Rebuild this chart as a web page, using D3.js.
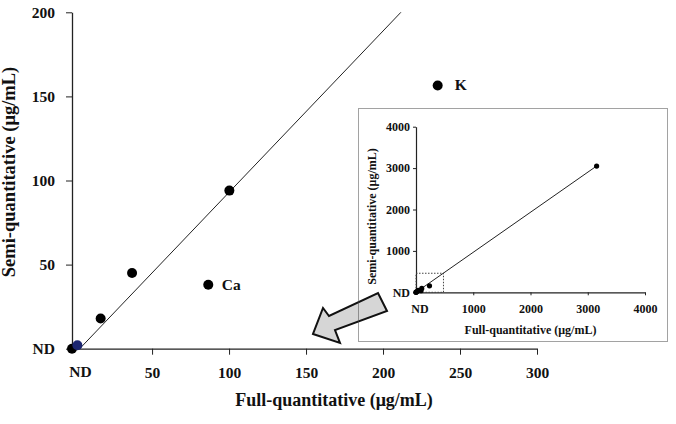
<!DOCTYPE html>
<html>
<head>
<meta charset="utf-8">
<script src="https://cdn.jsdelivr.net/npm/d3@7"></script>
<style>
  body { margin: 0; background: #fff; }
  svg { display: block; }
  .axis path, .axis line { stroke: #222; }
</style>
</head>
<body>
<svg width="676" height="424"></svg>
<script>
// main chart values ('ND' = not detected, drawn at the axis origin)
const fullQuant = ['ND', 1.5, 16.6, 37, 100.2, 86.5, 235.5]
const semiQuant = ['ND', 2, 18, 45, 94, 38, 156.5]
const pointColors = ['#000', '#1c2670', '#000', '#000', '#000', '#000', '#000']
const pointLabels = ['', '', '', '', '', 'Ca', 'K']
const fitX = [3, 211.6]
const fitY = [0, 200]
const xTicks = [50, 100, 150, 200, 250, 300]
const yTicks = [0, 50, 100, 150, 200]

// inset values
const insetExtraX = [3155]
const insetExtraY = [3050]
const insetFitX = [0, 3155]
const insetFitY = [0, 3050]
const insetTicks = [1000, 2000, 3000, 4000]
const insetYTicks = [0, 1000, 2000, 3000, 4000]
const zoomBoxX = [0, 480]
const zoomBoxY = [0, 460]

const FONT = '"Liberation Serif", "Times New Roman", serif'
let svg = d3.select('svg')

let x = d3.scaleLinear().domain([-2, 300]).range([72, 537])
let y = d3.scaleLinear().domain([0, 200]).range([348.7, 12.3])
let nd = function (v, s) { return v === 'ND' ? s.domain()[0] : v }

let xAxis = svg.append('g')
  .attr('class', 'axis')
  .attr('transform', 'translate(0,' + y(0) + ')')
  .call(d3.axisBottom(x).tickValues(xTicks).tickSize(6).tickSizeOuter(0).tickPadding(12))
xAxis.select('.domain').attr('stroke-width', 1.3)
xAxis.selectAll('text').attr('font-family', FONT).attr('font-weight', 'bold')
  .attr('font-size', 15.5).attr('fill', '#111')

let yAxis = svg.append('g')
  .attr('class', 'axis')
  .attr('transform', 'translate(' + x(-2) + ',0)')
  .call(d3.axisLeft(y).tickValues(yTicks).tickSize(6).tickSizeOuter(0).tickPadding(11)
    .tickFormat(function (d) { return d === 0 ? 'ND' : d }))
yAxis.select('.domain').attr('stroke-width', 1.3)
yAxis.selectAll('text').attr('font-family', FONT).attr('font-weight', 'bold')
  .attr('font-size', 15.5).attr('fill', '#111')

// ND label under the x axis
svg.append('text')
  .attr('x', x(3.5)).attr('y', 377)
  .attr('text-anchor', 'middle')
  .attr('font-family', FONT).attr('font-weight', 'bold').attr('font-size', 15.5)
  .attr('fill', '#111')
  .text('ND')

// fit line
svg.append('line')
  .attr('x1', x(fitX[0])).attr('y1', y(fitY[0]))
  .attr('x2', x(fitX[1])).attr('y2', y(fitY[1]))
  .attr('stroke', '#222').attr('stroke-width', 1)

// points
let pts = fullQuant.map(function (d, i) {
  return { x: nd(d, x), y: nd(semiQuant[i], y), c: pointColors[i], label: pointLabels[i] }
})
svg.append('g').selectAll('circle')
  .data(pts)
  .enter().append('circle')
  .attr('cx', function (d) { return x(d.x) })
  .attr('cy', function (d) { return y(d.y) })
  .attr('r', 5)
  .attr('fill', function (d) { return d.c })

svg.append('g').selectAll('text')
  .data(pts.filter(function (d) { return d.label }))
  .enter().append('text')
  .attr('x', function (d) { return x(d.x) + (d.label === 'K' ? 17 : 13.5) })
  .attr('y', function (d) { return y(d.y) + 5 })
  .attr('font-family', FONT).attr('font-weight', 'bold').attr('font-size', 15.5)
  .attr('fill', '#111')
  .text(function (d) { return d.label })

// axis titles
svg.append('text')
  .attr('x', 334).attr('y', 406)
  .attr('text-anchor', 'middle')
  .attr('font-family', FONT).attr('font-weight', 'bold').attr('font-size', 18)
  .attr('fill', '#111')
  .text('Full-quantitative (μg/mL)')
svg.append('text')
  .attr('transform', 'translate(14.5,172) rotate(-90)')
  .attr('text-anchor', 'middle')
  .attr('font-family', FONT).attr('font-weight', 'bold').attr('font-size', 18.5)
  .attr('fill', '#111')
  .text('Semi-quantitative (μg/mL)')

// block arrow pointing from the inset to the main chart
svg.append('path')
  .attr('d', 'M313,334 L340,343 L335,330 L387,311 L378,293 L329,316 L323,308 Z')
  .attr('fill', '#d6d6d6').attr('stroke', '#111').attr('stroke-width', 2)
  .attr('stroke-linejoin', 'miter')

// ---- inset ----
let inset = svg.append('g')
inset.append('rect')
  .attr('x', 358.5).attr('y', 108.5).attr('width', 309).attr('height', 233)
  .attr('fill', 'none').attr('stroke', '#444').attr('stroke-width', 1)
  .attr('stroke-dasharray', '1,1')

let ix = d3.scaleLinear().domain([0, 4000]).range([416, 645])
let iy = d3.scaleLinear().domain([0, 4000]).range([292.3, 126.7])

let ixAxis = inset.append('g')
  .attr('class', 'axis')
  .attr('transform', 'translate(0,' + iy(0) + ')')
  .call(d3.axisBottom(ix).tickValues(insetTicks).tickSize(3).tickSizeOuter(0).tickPadding(9)
    .tickFormat(d3.format('d')))
ixAxis.select('.domain').attr('stroke-width', 1.2)
ixAxis.selectAll('text').attr('font-family', FONT).attr('font-weight', 'bold')
  .attr('font-size', 12).attr('fill', '#111')

let iyAxis = inset.append('g')
  .attr('class', 'axis')
  .attr('transform', 'translate(' + ix(0) + ',0)')
  .call(d3.axisLeft(iy).tickValues(insetYTicks).tickSize(3).tickSizeOuter(0).tickPadding(3)
    .tickFormat(function (d) { return d === 0 ? 'ND' : d3.format('d')(d) }))
iyAxis.select('.domain').attr('stroke-width', 1.2)
iyAxis.selectAll('text').attr('font-family', FONT).attr('font-weight', 'bold')
  .attr('font-size', 12).attr('fill', '#111')

inset.append('text')
  .attr('x', ix(70)).attr('y', 313)
  .attr('text-anchor', 'middle')
  .attr('font-family', FONT).attr('font-weight', 'bold').attr('font-size', 12)
  .attr('fill', '#111')
  .text('ND')

// zoomed region marker
inset.append('rect')
  .attr('x', ix(zoomBoxX[0])).attr('y', iy(zoomBoxY[1]))
  .attr('width', ix(zoomBoxX[1]) - ix(zoomBoxX[0]))
  .attr('height', iy(zoomBoxY[0]) - iy(zoomBoxY[1]))
  .attr('fill', 'none').attr('stroke', '#444').attr('stroke-width', 1)
  .attr('stroke-dasharray', '1.5,1.5')

inset.append('line')
  .attr('x1', ix(insetFitX[0])).attr('y1', iy(insetFitY[0]))
  .attr('x2', ix(insetFitX[1])).attr('y2', iy(insetFitY[1]))
  .attr('stroke', '#222').attr('stroke-width', 1)

let insetPts = pts.map(function (d) { return { x: Math.max(d.x, 0), y: d.y } })
  .concat(insetExtraX.map(function (d, i) { return { x: d, y: insetExtraY[i] } }))
inset.append('g').selectAll('circle')
  .data(insetPts)
  .enter().append('circle')
  .attr('cx', function (d) { return ix(d.x) })
  .attr('cy', function (d) { return iy(d.y) })
  .attr('r', 2.6)
  .attr('fill', '#000')

inset.append('text')
  .attr('x', 530.5).attr('y', 334)
  .attr('text-anchor', 'middle')
  .attr('font-family', FONT).attr('font-weight', 'bold').attr('font-size', 12)
  .attr('fill', '#111')
  .text('Full-quantitative (μg/mL)')
inset.append('text')
  .attr('transform', 'translate(375.5,216.5) rotate(-90)')
  .attr('text-anchor', 'middle')
  .attr('font-family', FONT).attr('font-weight', 'bold').attr('font-size', 12)
  .attr('fill', '#111')
  .text('Semi-quantitative (μg/mL)')
</script>
</body>
</html>
